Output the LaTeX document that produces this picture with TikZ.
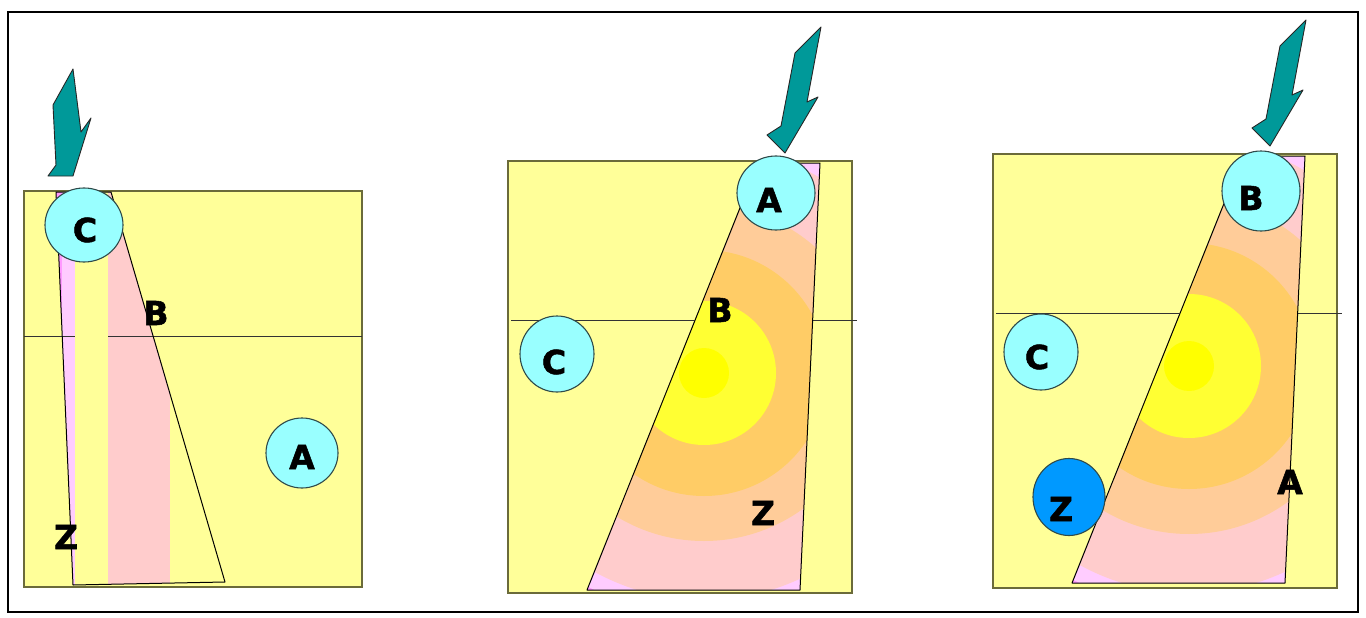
\documentclass[tikz,border=0pt]{standalone}
\usepackage{fontspec}
\setmainfont{DejaVu Sans}
\newfontfamily\heavy{DejaVu Sans Bold}[FakeBold=1.6]
\usetikzlibrary{shapes.geometric}
\definecolor{bg}{HTML}{FFFF99}
\definecolor{cyanfill}{HTML}{99FFFF}
\definecolor{bluefill}{HTML}{0099FF}
\definecolor{tealfill}{HTML}{009999}
\definecolor{mag}{HTML}{FF99FF}
\definecolor{lmag}{HTML}{FFCCFF}
\definecolor{salmon}{HTML}{FFCCCC}
\definecolor{lorange}{HTML}{FFCC99}
\definecolor{orangeb}{HTML}{FFCC66}
\definecolor{yel}{HTML}{FFFF33}
\definecolor{coreyel}{HTML}{FFFF00}
\definecolor{rim}{HTML}{6B6B3A}
\definecolor{ballrim}{HTML}{2F4A4A}
\tikzset{
  panel/.style={fill=bg, draw=rim, line width=1.3pt},
  hline/.style={draw=black!80, line width=0.9pt},
  trap/.style={draw=black, line width=1pt, line join=round},
  ball/.style={ellipse, draw=ballrim, fill=cyanfill, line width=1.1pt, inner sep=0pt},
  dball/.style={ball, fill=bluefill},
  lab/.style={font=\fontsize{33}{33}\heavy, inner sep=0pt},
  bolt/.style={fill=tealfill, draw=black!85, line width=0.9pt, line join=round}
}
\newcommand\gradtrap{%
  \begin{scope}
    \clip (758,163) -- (820,163) -- (800,590) -- (587,590) -- cycle;
    \fill[mag] (500,100) rectangle (900,650);
    \fill[lmag] (704,373) circle (243pt);
    \fill[salmon] (704,373) circle (227pt);
    \fill[lorange] (704,373) circle (168pt);
    \fill[orangeb] (704,373) circle (123pt);
    \fill[yel] (704,373) circle (72pt);
    \fill[coreyel] (704,373) circle (25pt);
  \end{scope}
  \draw[trap] (758,163) -- (820,163) -- (800,590) -- (587,590) -- cycle;
}
\begin{document}
\begin{tikzpicture}[x=1pt,y=-1pt]
\useasboundingbox (0,0) rectangle (1366,618);
\fill[white] (0,0) rectangle (1366,618);
\draw[line width=2.9pt] (8,12) rectangle (1358,612);

% ---------- panel 1 ----------
\draw[panel] (24,191) rectangle (362,587);
\begin{scope}
  \clip (56,192) -- (111,192) -- (225,582) -- (73,585) -- cycle;
  \fill[bg] (40,180) rectangle (240,600);
  \fill[mag] (40,180) rectangle (62,600);
  \fill[lmag] (62,180) rectangle (75,600);
  \fill[salmon] (108,180) rectangle (170,600);
\end{scope}
\draw[hline] (24,336) -- (362,336);
\begin{scope}
  \clip (56,192) -- (111,192) -- (225,582) -- (73,585) -- cycle;
  \fill[bg] (75,180) rectangle (108,600);
\end{scope}
\draw[trap] (56,192) -- (111,192) -- (225,582) -- (73,585) -- cycle;
\node[ball, minimum width=78pt, minimum height=74pt] (c1) at (84,225) {};
\node[ball, minimum width=72pt, minimum height=70pt] (a1) at (302,453) {};
\node[lab] (lc1) at (85,230) {C};
\node[lab] (la1) at (302,457) {A};
\node[lab] (lb1) at (156,313) {B};
\node[lab] (lz1) at (66,537) {Z};
\draw[bolt] (73,69) -- (81,132) -- (91,118) -- (73,176) -- (48,176) -- (56,165) -- (53,105) -- cycle;

% ---------- panel 2 ----------
\draw[panel] (508,161) rectangle (852,593);
\draw[hline] (511,320) -- (857,320);
\gradtrap
\node[ball, minimum width=78pt, minimum height=74pt] (a2) at (776,193) {};
\node[ball, minimum width=74pt, minimum height=76pt] (c2) at (557,354) {};
\node[lab] (la2) at (769,200) {A};
\node[lab] (lb2) at (720,310) {B};
\node[lab] (lc2) at (554,362) {C};
\node[lab] (lz2) at (763,513) {Z};
\draw[bolt] (821,27) -- (807,102) -- (818,97) -- (785,153) -- (767,135) -- (781,126) -- (795,53) -- cycle;

% ---------- panel 3 ----------
\begin{scope}[shift={(485,-7)}]
\draw[panel] (508,161) rectangle (852,595);
\draw[hline] (511,320) -- (857,320);
\gradtrap
\draw[bolt] (821,27) -- (807,102) -- (818,97) -- (785,153) -- (767,135) -- (781,126) -- (795,53) -- cycle;
\end{scope}
\node[ball, minimum width=78pt, minimum height=80pt] (b3) at (1261,191) {};
\node[ball, minimum width=74pt, minimum height=76pt] (c3) at (1041,352) {};
\node[dball, minimum width=72pt, minimum height=77pt] (z3) at (1069,497) {};
\node[lab] (lb3) at (1251,198) {B};
\node[lab] (lc3) at (1037,357) {C};
\node[lab] (lz3) at (1061,509) {Z};
\node[lab] (la3) at (1290,482) {A};
\end{tikzpicture}
\end{document}
